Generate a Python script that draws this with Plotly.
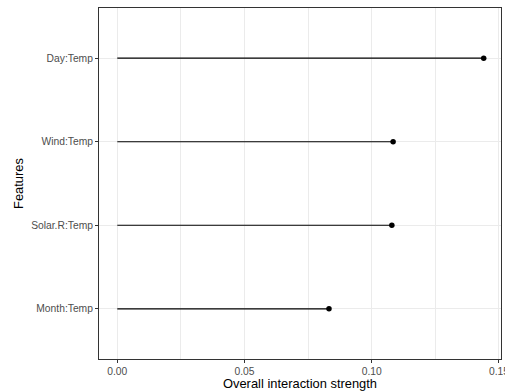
import plotly.graph_objects as go

features = ["Month:Temp", "Solar.R:Temp", "Wind:Temp", "Day:Temp"]
strength = [0.0832, 0.1079, 0.1084, 0.1440]
x_ticks = [0.00, 0.05, 0.10, 0.15]
x_tick_labels = ["0.00", "0.05", "0.10", "0.15"]

seg_x, seg_y = [], []
for f, v in zip(features, strength):
    seg_x += [0, v, None]
    seg_y += [f, f, None]

fig = go.Figure()
fig.add_trace(go.Scatter(x=seg_x, y=seg_y, mode="lines",
                         line=dict(color="black", width=1.1),
                         hoverinfo="skip", showlegend=False))
fig.add_trace(go.Scatter(x=strength, y=features, mode="markers",
                         marker=dict(color="black", size=5.5),
                         showlegend=False))

font_family = "Liberation Sans, Arial, sans-serif"
fig.update_layout(
    width=505, height=391,
    margin=dict(l=99, r=4, t=8, b=32),
    plot_bgcolor="white", paper_bgcolor="white",
    font=dict(family=font_family, color="black"),
)
fig.update_xaxes(
    automargin=False,
    range=[-0.00719, 0.1508],
    tickvals=x_ticks, ticktext=x_tick_labels,
    tickfont=dict(size=10.3, color="#4D4D4D"),
    ticklabeloverflow="allow",
    ticks="outside", ticklen=3, tickcolor="#333333", tickwidth=1,
    showgrid=True, gridcolor="#EBEBEB", gridwidth=1,
    minor=dict(dtick=0.025, tick0=0, showgrid=True, gridcolor="#EBEBEB", gridwidth=0.5, ticks=""),
    showline=True, linecolor="#333333", linewidth=1, mirror=True,
    zeroline=False,
    title=dict(text="Overall interaction strength", font=dict(size=12.9, color="black"), standoff=2),
)
fig.update_yaxes(
    automargin=False,
    type="category", categoryorder="array", categoryarray=features,
    range=[-0.6, 3.6],
    tickfont=dict(size=10.3, color="#4D4D4D"),
    ticks="outside", ticklen=3, tickcolor="#333333", tickwidth=1,
    showgrid=True, gridcolor="#EBEBEB", gridwidth=1,
    showline=True, linecolor="#333333", linewidth=1, mirror=True,
    zeroline=False,
    title=dict(text="Features", font=dict(size=12.9, color="black"), standoff=4),
)

fig.write_html(
    "out.html",
    config={"displayModeBar": False},
    post_script="document.body.style.margin='0';document.body.style.padding='0';"
                "document.documentElement.style.overflow='hidden';",
)
